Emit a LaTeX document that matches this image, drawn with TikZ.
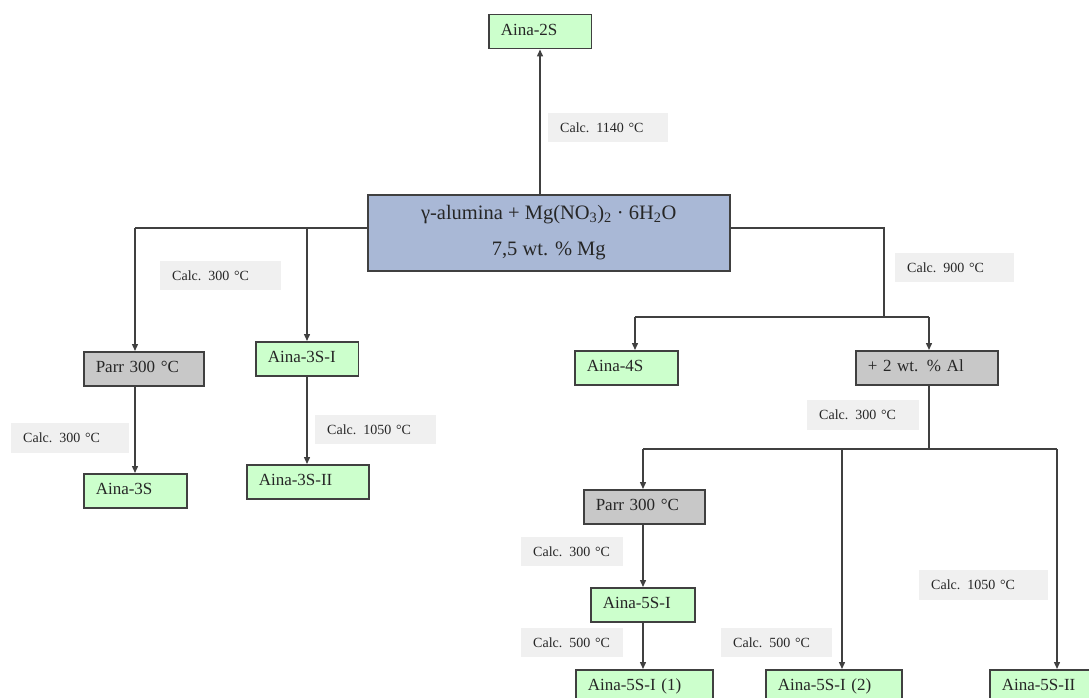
\documentclass[tikz,border=0pt]{standalone}
\usepackage{fontspec}
\setmainfont{Liberation Serif}
\usetikzlibrary{arrows.meta}

\definecolor{edgegray}{HTML}{404040}
\definecolor{greenfill}{HTML}{CCFFCC}
\definecolor{grayfill}{HTML}{C8C8C8}
\definecolor{bluefill}{HTML}{A9B8D6}
\definecolor{lblfill}{HTML}{F0F0F0}

\begin{document}
\begin{tikzpicture}[x=1pt, y=-1pt,
    every node/.style={anchor=north west, text=black!85},
    box/.style={draw=edgegray, line width=1.5pt, inner xsep=12pt, inner ysep=9pt,
        text height=12pt, text depth=4pt, align=left, font=\fontsize{17}{20}\selectfont},
    greenbox/.style={box, fill=greenfill},
    graybox/.style={box, fill=grayfill},
    lbl/.style={fill=lblfill, inner xsep=12pt, inner ysep=0pt, minimum height=29pt,
        align=left, font=\fontsize{14}{16}\selectfont},
    arr/.style={-{Triangle[length=7pt,width=6pt]}},
    line/.style={draw=edgegray, line width=1.4pt}]
    \useasboundingbox (0,0) rectangle (1089,698);
    \clip (0,0) rectangle (1089,698);

    % Start material
    \node[draw=edgegray, line width=1.5pt, fill=bluefill, minimum width=362pt, minimum height=76pt,
        inner sep=0pt, align=center, font=\fontsize{20.5}{36}\selectfont] (main) at (367,194)
        {γ-alumina + Mg(NO\textsubscript{3})\textsubscript{2} · 6H\textsubscript{2}O\\7,5 wt. \% Mg};

    % Samples
    \node[greenbox, text width=78.5pt] (a2s) at (488,14) {Aina-2S};
    \node[graybox, text width=96pt] (parr1) at (83,351) {Parr 300 °C};
    \node[greenbox, text width=78.5pt] (a3si) at (255,341) {Aina-3S-I};
    \node[greenbox, text width=79pt] (a3s) at (83,473) {Aina-3S};
    \node[greenbox, text width=98pt] (a3sii) at (246,464) {Aina-3S-II};
    \node[greenbox, text width=79pt] (a4s) at (574,350) {Aina-4S};
    \node[graybox, text width=118pt] (al) at (855,350) {+ 2 wt. \% Al};
    \node[graybox, text width=97pt] (parr2) at (583,489) {Parr 300 °C};
    \node[greenbox, text width=80pt] (a5si) at (590,587) {Aina-5S-I};
    \node[greenbox, text width=113pt] (a5si1) at (575,669) {Aina-5S-I (1)};
    \node[greenbox, text width=112pt] (a5si2) at (765,669) {Aina-5S-I (2)};
    \node[greenbox, text width=100pt] (a5sii) at (989,669) {Aina-5S-II};

    % Treatments
    \node[lbl, text width=96pt] (c1140) at (548,113) {Calc. 1140 °C};
    \node[lbl, text width=97pt] (c300a) at (160,261) {Calc. 300 °C};
    \node[lbl, text width=94pt, minimum height=30pt] (c300b) at (11,423) {Calc. 300 °C};
    \node[lbl, text width=97pt] (c1050a) at (315,415) {Calc. 1050 °C};
    \node[lbl, text width=95pt] (c900) at (895,253) {Calc. 900 °C};
    \node[lbl, text width=88pt, minimum height=30pt] (c300c) at (807,400) {Calc.\enspace 300 °C};
    \node[lbl, text width=78pt] (c300d) at (521,537) {Calc.\enspace 300 °C};
    \node[lbl, text width=78pt] (c500a) at (521,628) {Calc.\enspace 500 °C};
    \node[lbl, text width=87pt] (c500b) at (721,628) {Calc.\enspace 500 °C};
    \node[lbl, text width=105pt, minimum height=30pt] (c1050b) at (919,570) {Calc.\enspace 1050 °C};

    % Junctions
    \coordinate (jl) at (135,228);
    \coordinate (jr) at (884,317);
    \coordinate (b4) at (635,317);
    \coordinate (bal) at (929,317);
    \coordinate (b5) at (929,449);
    \coordinate (b5l) at (643,449);
    \coordinate (b5m) at (842,449);
    \coordinate (b5r) at (1057,449);

    % Connectors
    \draw[line, arr] (a2s.south |- main.north) -- (a2s.south);
    \draw[line] (main.west |- jl) -- (jl);
    \draw[line, arr] (jl) -- (jl |- parr1.north);
    \draw[line, arr] (a3si.north |- jl) -- (a3si.north);
    \draw[line, arr] (parr1.south -| jl) -- (a3s.north -| jl);
    \draw[line, arr] (a3si.south) -- (a3sii.north -| a3si.south);
    \draw[line] (main.east |- jl) -| (jr);
    \draw[line] (b4) -- (bal);
    \draw[line, arr] (b4) -- (b4 |- a4s.north);
    \draw[line, arr] (bal) -- (bal |- al.north);
    \draw[line] (al.south -| b5) -- (b5);
    \draw[line] (b5l) -- (b5r);
    \draw[line, arr] (b5l) -- (b5l |- parr2.north);
    \draw[line, arr] (parr2.south -| b5l) -- (a5si.north -| b5l);
    \draw[line, arr] (a5si.south -| b5l) -- (a5si1.north -| b5l);
    \draw[line, arr] (b5m) -- (b5m |- a5si2.north);
    \draw[line, arr] (b5r) -- (b5r |- a5sii.north);
\end{tikzpicture}
\end{document}
